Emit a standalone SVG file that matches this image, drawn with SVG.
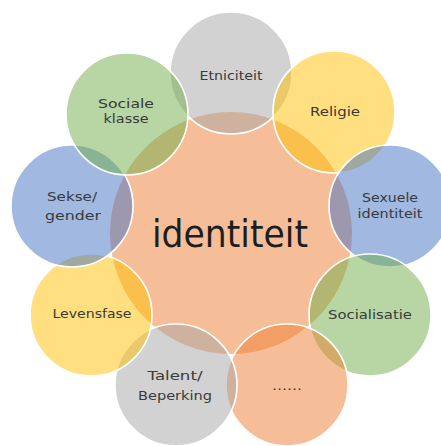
<svg xmlns="http://www.w3.org/2000/svg" width="441" height="446" viewBox="0 0 441 446">
<style>
.c{fill-opacity:0.5;stroke:#ffffff;stroke-width:1.6}
.t{font-family:"DejaVu Sans","Liberation Sans",sans-serif;font-size:13px;fill:#3a3a3a;text-anchor:middle}
.m{font-family:"DejaVu Sans","Liberation Sans",sans-serif;font-size:37px;fill:#1e1e1e;text-anchor:middle}
</style>
<rect width="441" height="446" fill="#ffffff"/>
<g id="connectors"></g>
<g id="identiteit">
<circle cx="231" cy="233" r="121" fill="#ED7D31" fill-opacity="0.5"/>
<text class="m" x="230" y="247" textLength="156" lengthAdjust="spacingAndGlyphs">identiteit</text>
</g>
<g id="etniciteit">
<circle class="c" cx="231" cy="73" r="61" fill="#A5A5A5"/>
<text class="t" x="231" y="80" textLength="63" lengthAdjust="spacingAndGlyphs">Etniciteit</text>
</g>
<g id="religie">
<circle class="c" cx="334" cy="112" r="61" fill="#FFC000"/>
<text class="t" x="335" y="116" textLength="50" lengthAdjust="spacingAndGlyphs">Religie</text>
</g>
<g id="sexuele">
<circle class="c" cx="390" cy="206" r="61" fill="#4472C4"/>
<text class="t" x="390" y="202" textLength="56" lengthAdjust="spacingAndGlyphs">Sexuele</text>
<text class="t" x="390" y="218" textLength="65" lengthAdjust="spacingAndGlyphs">identiteit</text>
</g>
<g id="socialisatie">
<circle class="c" cx="370" cy="315" r="61" fill="#70AD47"/>
<text class="t" x="370" y="319" textLength="84" lengthAdjust="spacingAndGlyphs">Socialisatie</text>
</g>
<g id="dots">
<circle class="c" cx="287" cy="385" r="61" fill="#ED7D31"/>
<text class="t" x="287" y="390" textLength="30" lengthAdjust="spacingAndGlyphs">......</text>
</g>
<g id="talent">
<circle class="c" cx="176" cy="385" r="61" fill="#A5A5A5"/>
<text class="t" x="175" y="380" textLength="55" lengthAdjust="spacingAndGlyphs">Talent/</text>
<text class="t" x="175" y="400" textLength="74" lengthAdjust="spacingAndGlyphs">Beperking</text>
</g>
<g id="levensfase">
<circle class="c" cx="91" cy="315" r="61" fill="#FFC000"/>
<text class="t" x="92" y="318" textLength="79" lengthAdjust="spacingAndGlyphs">Levensfase</text>
</g>
<g id="sekse">
<circle class="c" cx="72" cy="206" r="61" fill="#4472C4"/>
<text class="t" x="72" y="201" textLength="50" lengthAdjust="spacingAndGlyphs">Sekse/</text>
<text class="t" x="73" y="220" textLength="56" lengthAdjust="spacingAndGlyphs">gender</text>
</g>
<g id="sociale-klasse">
<circle class="c" cx="127" cy="114" r="61" fill="#70AD47"/>
<text class="t" x="126" y="108" textLength="56" lengthAdjust="spacingAndGlyphs">Sociale</text>
<text class="t" x="126" y="123" textLength="45" lengthAdjust="spacingAndGlyphs">klasse</text>
</g>
</svg>
